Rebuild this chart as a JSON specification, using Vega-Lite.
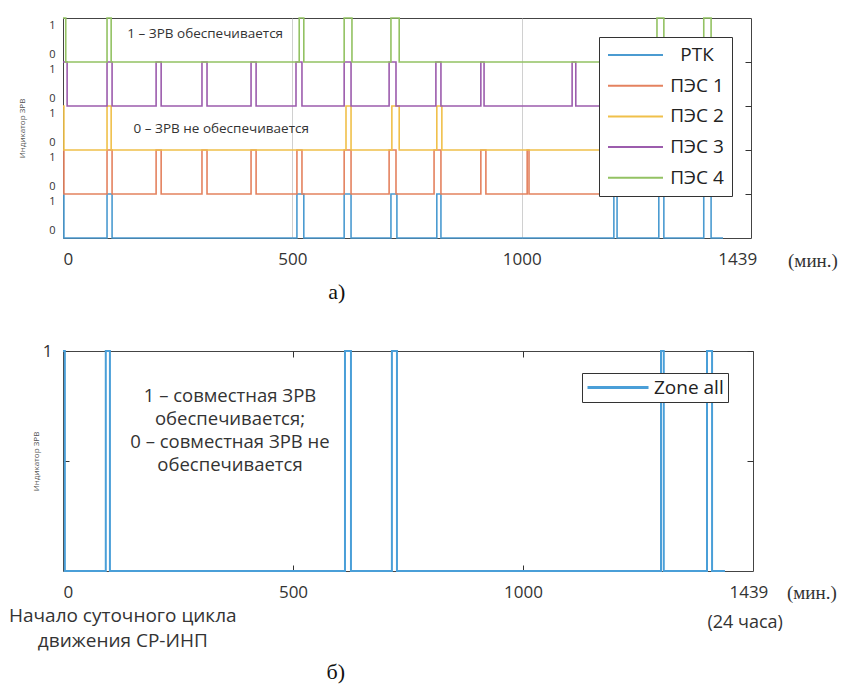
{
  "$schema": "https://vega.github.io/schema/vega-lite/v6.json",
  "background": "white",
  "padding": {"left": 8, "top": 14, "right": 0, "bottom": 0},
  "config": {
    "font": "Open Sans",
    "view": {"stroke": "#444", "strokeWidth": 1},
    "axis": {
      "labelFont": "Open Sans",
      "labelColor": "#333",
      "titleFont": "Open Sans",
      "titleColor": "#555",
      "titleFontWeight": "normal",
      "domain": false,
      "ticks": false
    },
    "text": {"font": "Open Sans", "color": "#333"}
  },
  "datasets": {
    "pulses": [
      {"s": "РТК", "t": 0, "v": 1}, {"s": "РТК", "t": 2, "v": 0},
      {"s": "РТК", "t": 96, "v": 1}, {"s": "РТК", "t": 107, "v": 0},
      {"s": "РТК", "t": 510, "v": 1}, {"s": "РТК", "t": 525, "v": 0},
      {"s": "РТК", "t": 613, "v": 1}, {"s": "РТК", "t": 628, "v": 0},
      {"s": "РТК", "t": 715, "v": 1}, {"s": "РТК", "t": 728, "v": 0},
      {"s": "РТК", "t": 815, "v": 1}, {"s": "РТК", "t": 824, "v": 0},
      {"s": "РТК", "t": 1201, "v": 1}, {"s": "РТК", "t": 1208, "v": 0},
      {"s": "РТК", "t": 1299, "v": 1}, {"s": "РТК", "t": 1310, "v": 0},
      {"s": "РТК", "t": 1397, "v": 1}, {"s": "РТК", "t": 1413, "v": 0},
      {"s": "РТК", "t": 1439, "v": 0},

      {"s": "ПЭС 1", "t": 0, "v": 1}, {"s": "ПЭС 1", "t": 2, "v": 0},
      {"s": "ПЭС 1", "t": 96, "v": 1}, {"s": "ПЭС 1", "t": 107, "v": 0},
      {"s": "ПЭС 1", "t": 203, "v": 1}, {"s": "ПЭС 1", "t": 214, "v": 0},
      {"s": "ПЭС 1", "t": 303, "v": 1}, {"s": "ПЭС 1", "t": 314, "v": 0},
      {"s": "ПЭС 1", "t": 410, "v": 1}, {"s": "ПЭС 1", "t": 421, "v": 0},
      {"s": "ПЭС 1", "t": 510, "v": 1}, {"s": "ПЭС 1", "t": 521, "v": 0},
      {"s": "ПЭС 1", "t": 613, "v": 1}, {"s": "ПЭС 1", "t": 628, "v": 0},
      {"s": "ПЭС 1", "t": 711, "v": 1}, {"s": "ПЭС 1", "t": 726, "v": 0},
      {"s": "ПЭС 1", "t": 809, "v": 1}, {"s": "ПЭС 1", "t": 824, "v": 0},
      {"s": "ПЭС 1", "t": 911, "v": 1}, {"s": "ПЭС 1", "t": 922, "v": 0},
      {"s": "ПЭС 1", "t": 1012, "v": 1}, {"s": "ПЭС 1", "t": 1016, "v": 0},
      {"s": "ПЭС 1", "t": 1439, "v": 0},

      {"s": "ПЭС 2", "t": 0, "v": 1}, {"s": "ПЭС 2", "t": 2, "v": 0},
      {"s": "ПЭС 2", "t": 96, "v": 1}, {"s": "ПЭС 2", "t": 105, "v": 0},
      {"s": "ПЭС 2", "t": 617, "v": 1}, {"s": "ПЭС 2", "t": 628, "v": 0},
      {"s": "ПЭС 2", "t": 717, "v": 1}, {"s": "ПЭС 2", "t": 733, "v": 0},
      {"s": "ПЭС 2", "t": 815, "v": 1}, {"s": "ПЭС 2", "t": 826, "v": 0},
      {"s": "ПЭС 2", "t": 1439, "v": 0},

      {"s": "ПЭС 3", "t": 0, "v": 1}, {"s": "ПЭС 3", "t": 9, "v": 0},
      {"s": "ПЭС 3", "t": 96, "v": 1}, {"s": "ПЭС 3", "t": 107, "v": 0},
      {"s": "ПЭС 3", "t": 203, "v": 1}, {"s": "ПЭС 3", "t": 214, "v": 0},
      {"s": "ПЭС 3", "t": 303, "v": 1}, {"s": "ПЭС 3", "t": 314, "v": 0},
      {"s": "ПЭС 3", "t": 410, "v": 1}, {"s": "ПЭС 3", "t": 421, "v": 0},
      {"s": "ПЭС 3", "t": 508, "v": 1}, {"s": "ПЭС 3", "t": 521, "v": 0},
      {"s": "ПЭС 3", "t": 613, "v": 1}, {"s": "ПЭС 3", "t": 628, "v": 0},
      {"s": "ПЭС 3", "t": 711, "v": 1}, {"s": "ПЭС 3", "t": 726, "v": 0},
      {"s": "ПЭС 3", "t": 813, "v": 1}, {"s": "ПЭС 3", "t": 824, "v": 0},
      {"s": "ПЭС 3", "t": 911, "v": 1}, {"s": "ПЭС 3", "t": 918, "v": 0},
      {"s": "ПЭС 3", "t": 1110, "v": 1}, {"s": "ПЭС 3", "t": 1118, "v": 0},
      {"s": "ПЭС 3", "t": 1439, "v": 0},

      {"s": "ПЭС 4", "t": 0, "v": 1}, {"s": "ПЭС 4", "t": 6, "v": 0},
      {"s": "ПЭС 4", "t": 96, "v": 1}, {"s": "ПЭС 4", "t": 105, "v": 0},
      {"s": "ПЭС 4", "t": 515, "v": 1}, {"s": "ПЭС 4", "t": 525, "v": 0},
      {"s": "ПЭС 4", "t": 613, "v": 1}, {"s": "ПЭС 4", "t": 630, "v": 0},
      {"s": "ПЭС 4", "t": 715, "v": 1}, {"s": "ПЭС 4", "t": 733, "v": 0},
      {"s": "ПЭС 4", "t": 1295, "v": 1}, {"s": "ПЭС 4", "t": 1310, "v": 0},
      {"s": "ПЭС 4", "t": 1397, "v": 1}, {"s": "ПЭС 4", "t": 1413, "v": 0},
      {"s": "ПЭС 4", "t": 1439, "v": 0}
    ],
    "zone": [
      {"s": "Zone all", "t": 0, "v": 1}, {"s": "Zone all", "t": 4, "v": 0},
      {"s": "Zone all", "t": 93, "v": 1}, {"s": "Zone all", "t": 102, "v": 0},
      {"s": "Zone all", "t": 613, "v": 1}, {"s": "Zone all", "t": 626, "v": 0},
      {"s": "Zone all", "t": 715, "v": 1}, {"s": "Zone all", "t": 726, "v": 0},
      {"s": "Zone all", "t": 1300, "v": 1}, {"s": "Zone all", "t": 1306, "v": 0},
      {"s": "Zone all", "t": 1400, "v": 1}, {"s": "Zone all", "t": 1411, "v": 0},
      {"s": "Zone all", "t": 1439, "v": 0}
    ]
  },
  "bounds": "flush",
  "spacing": 113,
  "resolve": {"scale": {"color": "independent", "x": "independent"}},
  "vconcat": [
    {
      "width": 688,
      "height": 220,
      "resolve": {"scale": {"y": "independent"}},
      "layer": [
        {
          "data": {"name": "pulses"},
          "transform": [{"filter": "datum.s == 'РТК'"}],
          "mark": {"type": "line", "interpolate": "step-after", "strokeWidth": 1.6},
          "encoding": {
            "x": {
              "field": "t", "type": "quantitative",
              "scale": {"domain": [0, 1500], "nice": false, "zero": false},
              "axis": {
                "title": null,
                "values": [0, 500, 1000, 1470],
                "labelExpr": "datum.value > 1400 ? '1439' : '' + datum.value",
                "labelFontSize": 17,
                "labelPadding": 13,
                "grid": true,
                "gridColor": "#c4c4c4",
                "gridWidth": 0.8,
                "gridOpacity": {"condition": {"test": "datum.value > 0 && datum.value < 1400", "value": 1}, "value": 0}
              }
            },
            "y": {
              "field": "v", "type": "quantitative",
              "scale": {"domain": [0, 5], "nice": false, "zero": false},
              "axis": {
                "orient": "left", "title": null,
                "values": [0.18, 0.84, 1, 2, 3, 4],
                "labelExpr": "datum.value < 1 ? (datum.value < 0.5 ? '0' : '1') : ''",
                "labelFontSize": 11, "labelPadding": 8,
                "grid": true, "gridColor": "#333", "gridDash": [0, 682, 6, 0],
                "gridOpacity": {"condition": {"test": "datum.value >= 1", "value": 1}, "value": 0}
              }
            },
            "color": {
              "field": "s", "type": "nominal",
              "scale": {
                "domain": ["РТК", "ПЭС 1", "ПЭС 2", "ПЭС 3", "ПЭС 4"],
                "range": ["#4b9bd1", "#e4825f", "#f0c04a", "#9c5cad", "#93c263"]
              },
              "legend": {
                "title": null, "orient": "top-right", "offset": 19,
                "symbolType": "M-1,0H5.11", "symbolSize": 324, "symbolStrokeWidth": 2,
                "labelFontSize": 19, "labelColor": "#222", "labelAlign": "center", "labelOffset": 70,
                "rowPadding": 10.7, "padding": 8,
                "strokeColor": "#333", "fillColor": "white"
              }
            }
          }
        },
        {
          "data": {"name": "pulses"},
          "transform": [{"filter": "datum.s == 'ПЭС 1'"}],
          "mark": {"type": "line", "interpolate": "step-after", "strokeWidth": 1.6},
          "encoding": {
            "x": {"field": "t", "type": "quantitative"},
            "y": {
              "field": "v", "type": "quantitative",
              "scale": {"domain": [-1, 4], "nice": false, "zero": false},
              "axis": {"orient": "left", "title": null, "values": [0.18, 0.84], "labelExpr": "datum.value < 0.5 ? '0' : '1'", "labelFontSize": 11, "labelPadding": 8, "grid": false}
            },
            "color": {"field": "s", "type": "nominal"}
          }
        },
        {
          "data": {"name": "pulses"},
          "transform": [{"filter": "datum.s == 'ПЭС 2'"}],
          "mark": {"type": "line", "interpolate": "step-after", "strokeWidth": 1.6},
          "encoding": {
            "x": {"field": "t", "type": "quantitative"},
            "y": {
              "field": "v", "type": "quantitative",
              "scale": {"domain": [-2, 3], "nice": false, "zero": false},
              "axis": {"orient": "left", "title": "Индикатор ЗРВ", "titleFontSize": 8, "titlePadding": 22, "values": [0.18, 0.84], "labelExpr": "datum.value < 0.5 ? '0' : '1'", "labelFontSize": 11, "labelPadding": 8, "grid": false}
            },
            "color": {"field": "s", "type": "nominal"}
          }
        },
        {
          "data": {"name": "pulses"},
          "transform": [{"filter": "datum.s == 'ПЭС 3'"}],
          "mark": {"type": "line", "interpolate": "step-after", "strokeWidth": 1.6},
          "encoding": {
            "x": {"field": "t", "type": "quantitative"},
            "y": {
              "field": "v", "type": "quantitative",
              "scale": {"domain": [-3, 2], "nice": false, "zero": false},
              "axis": {"orient": "left", "title": null, "values": [0.18, 0.84], "labelExpr": "datum.value < 0.5 ? '0' : '1'", "labelFontSize": 11, "labelPadding": 8, "grid": false}
            },
            "color": {"field": "s", "type": "nominal"}
          }
        },
        {
          "data": {"name": "pulses"},
          "transform": [{"filter": "datum.s == 'ПЭС 4'"}],
          "mark": {"type": "line", "interpolate": "step-after", "strokeWidth": 1.6},
          "encoding": {
            "x": {"field": "t", "type": "quantitative"},
            "y": {
              "field": "v", "type": "quantitative",
              "scale": {"domain": [-4, 1], "nice": false, "zero": false},
              "axis": {"orient": "left", "title": null, "values": [0.18, 0.84], "labelExpr": "datum.value < 0.5 ? '0' : '1'", "labelFontSize": 11, "labelPadding": 8, "grid": false}
            },
            "color": {"field": "s", "type": "nominal"}
          }
        },
        {
          "data": {"values": [{}]},
          "mark": {"type": "text", "fontSize": 13.5, "align": "center", "baseline": "middle"},
          "encoding": {
            "x": {"datum": 310},
            "y": {"datum": 4.64, "scale": {"domain": [0, 5], "nice": false, "zero": false}, "axis": null},
            "text": {"value": "1 – ЗРВ обеспечивается"}
          }
        },
        {
          "data": {"values": [{}]},
          "mark": {"type": "text", "fontSize": 13.5, "align": "center", "baseline": "middle"},
          "encoding": {
            "x": {"datum": 345},
            "y": {"datum": 2.48, "scale": {"domain": [0, 5], "nice": false, "zero": false}, "axis": null},
            "text": {"value": "0 – ЗРВ не обеспечивается"}
          }
        },
        {
          "data": {"values": [{}]},
          "mark": {"type": "text", "fontSize": 19, "font": "Liberation Serif", "align": "center", "baseline": "middle"},
          "encoding": {
            "x": {"datum": 1635},
            "y": {"datum": -0.52, "scale": {"domain": [0, 5], "nice": false, "zero": false}, "axis": null},
            "text": {"value": "(мин.)"}
          }
        },
        {
          "data": {"values": [{}]},
          "mark": {"type": "text", "fontSize": 22, "font": "Liberation Serif", "color": "#111", "align": "center", "baseline": "middle"},
          "encoding": {
            "x": {"datum": 597},
            "y": {"datum": -1.23, "scale": {"domain": [0, 5], "nice": false, "zero": false}, "axis": null},
            "text": {"value": "а)"}
          }
        }
      ]
    },
    {
      "width": 690,
      "height": 220,
      "layer": [
        {
          "data": {"name": "zone"},
          "mark": {"type": "line", "interpolate": "step-after", "strokeWidth": 2},
          "encoding": {
            "x": {
              "field": "t", "type": "quantitative",
              "scale": {"domain": [0, 1500], "nice": false, "zero": false},
              "axis": {
                "title": null,
                "values": [0, 500, 1000, 1490],
                "labelExpr": "datum.value > 1400 ? '1439' : '' + datum.value",
                "labelFontSize": 17,
                "labelPadding": 13,
                "grid": true, "gridColor": "#333", "gridDash": [6, 208],
                "gridOpacity": {"condition": {"test": "datum.value > 0 && datum.value < 1400", "value": 1}, "value": 0}
              }
            },
            "y": {
              "field": "v", "type": "quantitative",
              "scale": {"domain": [0, 1], "nice": false, "zero": false},
              "axis": {
                "title": "Индикатор ЗРВ", "titleFontSize": 8, "titlePadding": 2,
                "values": [0.5, 1],
                "labelExpr": "datum.value == 1 ? '1' : ''",
                "labelFontSize": 17, "labelPadding": 11,
                "grid": true, "gridColor": "#333", "gridDash": [6, 678]
              }
            },
            "color": {
              "field": "s", "type": "nominal",
              "scale": {"domain": ["Zone all"], "range": ["#4a9fd8"]},
              "legend": {
                "title": null, "orient": "none", "legendX": 519, "legendY": 22,
                "symbolType": "M-1,0H5.78", "symbolSize": 324, "symbolStrokeWidth": 3,
                "labelFontSize": 19, "labelColor": "#222", "labelOffset": 47, "padding": 4,
                "strokeColor": "#333", "fillColor": "white"
              }
            }
          }
        },
        {
          "data": {"values": [{}]},
          "mark": {"type": "text", "fontSize": 18.5, "align": "center", "baseline": "middle", "lineHeight": 23},
          "encoding": {
            "x": {"datum": 363},
            "y": {"datum": 0.795},
            "text": {"value": ["1 – совместная ЗРВ", "обеспечивается;", "0 – совместная ЗРВ не", "обеспечивается"]}
          }
        },
        {
          "data": {"values": [{}]},
          "mark": {"type": "text", "fontSize": 19, "align": "center", "baseline": "middle", "lineHeight": 25},
          "encoding": {
            "x": {"datum": 130},
            "y": {"datum": -0.205},
            "text": {"value": ["Начало суточного цикла", "движения СР-ИНП"]}
          }
        },
        {
          "data": {"values": [{}]},
          "mark": {"type": "text", "fontSize": 18, "align": "center", "baseline": "middle"},
          "encoding": {
            "x": {"datum": 1483},
            "y": {"datum": -0.236},
            "text": {"value": "(24 часа)"}
          }
        },
        {
          "data": {"values": [{}]},
          "mark": {"type": "text", "fontSize": 19, "font": "Liberation Serif", "align": "center", "baseline": "middle"},
          "encoding": {
            "x": {"datum": 1628},
            "y": {"datum": -0.1},
            "text": {"value": "(мин.)"}
          }
        },
        {
          "data": {"values": [{}]},
          "mark": {"type": "text", "fontSize": 22, "font": "Liberation Serif", "color": "#111", "align": "center", "baseline": "middle"},
          "encoding": {
            "x": {"datum": 593},
            "y": {"datum": -0.459},
            "text": {"value": "б)"}
          }
        }
      ]
    }
  ]
}
